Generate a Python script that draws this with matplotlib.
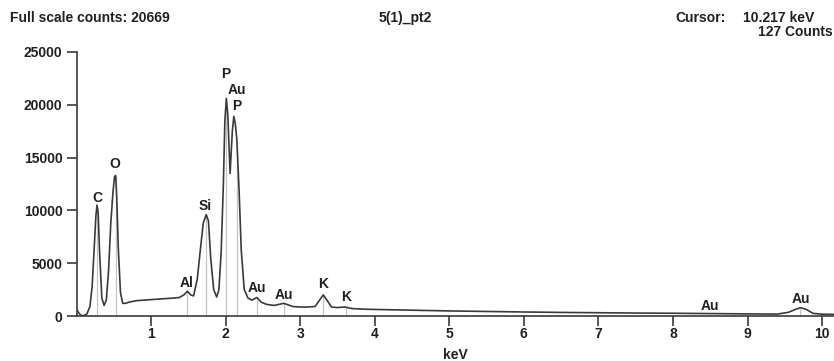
"""
EDS spectrum plot, 5(1)_pt2
"""

import numpy as np
import matplotlib.pyplot as plt

plt.rcParams['font.family'] = ['Liberation Sans', 'DejaVu Sans']
plt.rcParams['font.weight'] = 'bold'

# spectrum trace (keV, counts)
energy = [0.00, 0.03, 0.06, 0.10, 0.14, 0.18, 0.21, 0.24, 0.26, 0.275, 0.29, 0.31,
          0.34, 0.37, 0.40, 0.43, 0.46, 0.49, 0.51, 0.525, 0.54, 0.56, 0.59, 0.62,
          0.66, 0.70, 0.80, 0.90, 1.00, 1.10, 1.20, 1.30, 1.38, 1.44, 1.49, 1.53,
          1.57, 1.62, 1.66, 1.70, 1.74, 1.77, 1.80, 1.84, 1.88, 1.91, 1.94, 1.97,
          1.99, 2.01, 2.03, 2.06, 2.09, 2.11, 2.13, 2.15, 2.18, 2.21, 2.25, 2.30,
          2.35, 2.42, 2.48, 2.55, 2.65, 2.78, 2.90, 3.00, 3.10, 3.20, 3.26, 3.31,
          3.36, 3.42, 3.50, 3.60, 3.70, 3.85, 4.00, 4.50, 5.00, 5.50, 6.00, 6.50,
          7.00, 7.50, 8.00, 8.50, 9.00, 9.40, 9.55, 9.65, 9.71, 9.78, 9.88, 10.00,
          10.20]
counts = [650, 300, 50, 50, 200, 900, 2800, 6800, 9500, 10500, 9800, 6000,
          1700, 1000, 1500, 4300, 8800, 11800, 13200, 13300, 11200, 6500, 2200, 1200,
          1200, 1300, 1450, 1500, 1550, 1600, 1650, 1700, 1750, 2000, 2350, 2000,
          1900, 3500, 6200, 8800, 9600, 9000, 5500, 2500, 1800, 2500, 6000, 12500,
          18500, 20600, 19000, 13500, 17500, 18900, 18200, 16800, 12000, 6200, 2500, 1700,
          1500, 1750, 1300, 1100, 1000, 1200, 900, 850, 850, 900, 1500, 2000,
          1500, 850, 800, 850, 700, 650, 620, 550, 480, 430, 380, 340,
          310, 280, 260, 230, 200, 180, 350, 650, 780, 650, 250, 170,
          150]

# element markers: label, label position (keV, counts)
peak_labels = ['C', 'O', 'Al', 'Si', 'P', 'Au', 'P', 'Au', 'Au', 'K', 'K', 'Au', 'Au']
label_x = [0.28, 0.52, 1.47, 1.72, 2.0, 2.15, 2.15, 2.42, 2.78, 3.31, 3.61, 8.49, 9.71]
label_y = [11200, 14400, 3100, 10400, 22900, 21400, 19900, 2650, 1950, 3000, 1800, 950, 1600]
line_energy = [0.277, 0.525, 1.486, 1.74, 2.0, 2.155, 2.42, 2.78, 3.31, 3.61, 8.49, 9.71]

x_ticks = [1, 2, 3, 4, 5, 6, 7, 8, 9, 10]
y_ticks = [0, 5000, 10000, 15000, 20000, 25000]

fs = 10
txt_col = '#202020'
line_col = '#3a3a3a'

fig = plt.figure(figsize=(8.34, 3.61), dpi=100)
ax = fig.add_axes([76.5 / 834, 45 / 361, 1 - 76.5 / 834, 264 / 361])

# thin gray markers under the trace
for e in line_energy:
    ax.vlines(e, 0, np.interp(e, energy, counts), color='#c4c4c4', lw=0.9, zorder=1)

ax.plot(energy, counts, color=line_col, lw=1.2, zorder=2)

for lab, x, y in zip(peak_labels, label_x, label_y):
    ax.text(x, y, lab, ha='center', va='center', fontsize=fs, fontweight='bold', color=txt_col)

ax.set_xlim(0, 10.16)
ax.set_ylim(0, 25000)
ax.set_xticks(x_ticks)
ax.set_yticks(y_ticks)
ax.set_xticklabels([str(t) for t in x_ticks])
ax.set_yticklabels([str(t) for t in y_ticks])

for s in ['top', 'right']:
    ax.spines[s].set_visible(False)
for s in ['left', 'bottom']:
    ax.spines[s].set_color(line_col)
    ax.spines[s].set_linewidth(1.2)

ax.tick_params(axis='both', direction='out', color=line_col, width=1.2, labelsize=fs,
               labelcolor=txt_col)
ax.tick_params(axis='x', length=7, pad=1)
ax.tick_params(axis='y', length=7, pad=3)
for lbl in ax.get_xticklabels() + ax.get_yticklabels():
    lbl.set_fontweight('bold')

ax.set_xlabel('keV', fontsize=fs, fontweight='bold', color=txt_col, labelpad=5)

# header texts
top = 1 - 18 / 361
fig.text(10 / 834, top, 'Full scale counts: 20669', ha='left', va='center',
         fontsize=fs, fontweight='bold', color=txt_col)
fig.text(405 / 834, top, '5(1)_pt2', ha='center', va='center',
         fontsize=fs, fontweight='bold', color=txt_col)
fig.text(675 / 834, top, 'Cursor:', ha='left', va='center',
         fontsize=fs, fontweight='bold', color=txt_col)
fig.text(814 / 834, top, '10.217 keV', ha='right', va='center',
         fontsize=fs, fontweight='bold', color=txt_col)
fig.text(833 / 834, 1 - 32 / 361, '127 Counts', ha='right', va='center',
         fontsize=fs, fontweight='bold', color=txt_col)

plt.savefig('out.png', dpi=100)
plt.close()
